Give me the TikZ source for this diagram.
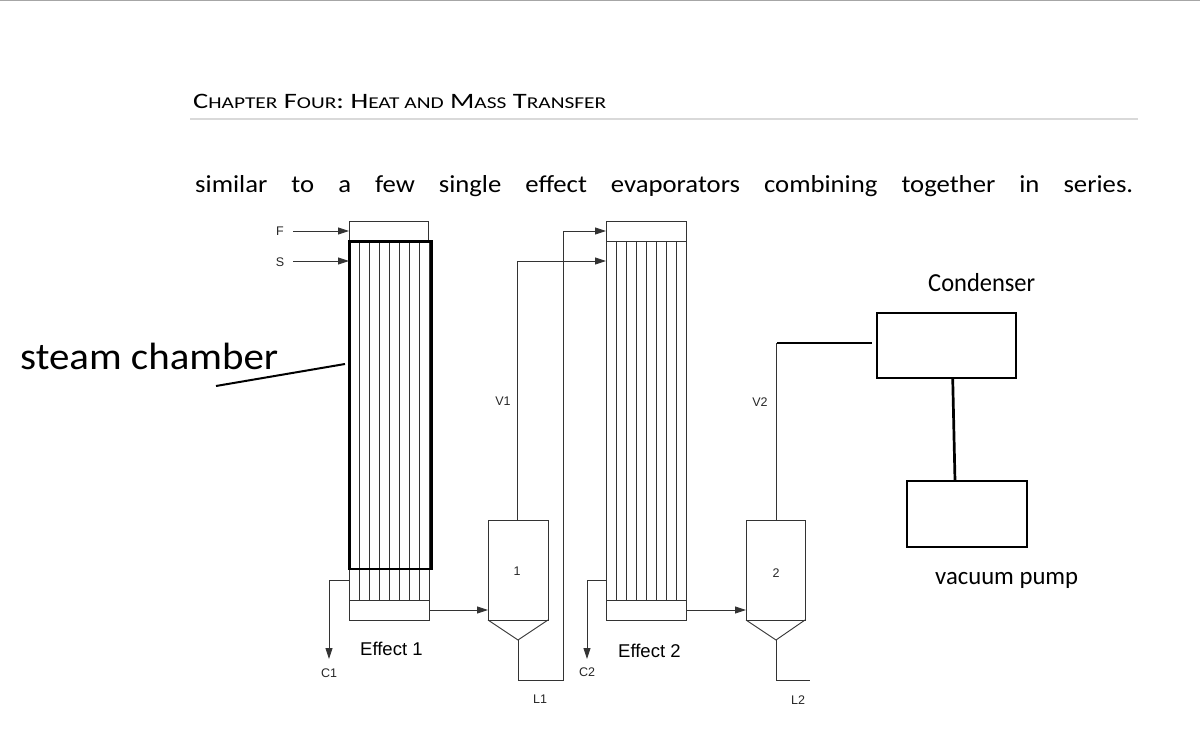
\documentclass[tikz,border=0pt]{standalone}
\usepackage{fontspec}
\setmainfont{Carlito}
\newfontfamily\arialf{Liberation Sans}
\usetikzlibrary{arrows.meta}
\newcommand\hsc[1]{{\fontsize{16.5}{16.5}\selectfont #1}}
\newcommand\bodyw[1]{\scalebox{1.09}[1]{#1}}
\tikzset{
  pipe/.style={draw=black!80, line width=0.9pt},
  flow/.style={pipe, -{Triangle[length=11pt,width=7pt]}},
  heavy/.style={draw=black, line width=2.8pt},
  lbl/.style={font=\arialf\fontsize{12.5}{12.5}\selectfont, text=black!85, inner sep=0pt},
  efflbl/.style={font=\arialf\fontsize{18.5}{18.5}\selectfont, inner sep=0pt, anchor=base west},
  txt/.style={inner sep=0pt, anchor=base west},
}
\begin{document}
\begin{tikzpicture}[x=1pt,y=-1pt]
\useasboundingbox (0,0) rectangle (1200,735);
\fill[white] (0,0) rectangle (1200,735);
% page decorations
\draw[black!35, line width=1.5pt] (0,0.75) -- (1200,0.75);
\draw[black!15, line width=1.6pt] (190,119) -- (1138,119);
\node[txt] (hdr) at (193,109) {\resizebox{413pt}{\height}{\fontsize{22}{22}\selectfont C\hsc{HAPTER} F\hsc{OUR}: H\hsc{EAT AND} M\hsc{ASS} T\hsc{RANSFER}}};
\node[txt] (body) at (195,193) {\fontsize{24.5}{24.5}\selectfont\makebox[938pt][s]{\bodyw{similar} \bodyw{to} \bodyw{a} \bodyw{few} \bodyw{single} \bodyw{effect} \bodyw{evaporators} \bodyw{combining} \bodyw{together} \bodyw{in} \bodyw{series.}}};

% ---------- Effect 1 ----------
\draw[pipe] (349,221) rectangle (428,241);
\foreach \i in {0,...,8} \draw[pipe] ({349+10*\i},241) -- ({349+10*\i},600);
\draw[pipe] (349,600) rectangle (429,620);
\draw[heavy] (349.5,241.3) rectangle (431.7,569);
\node[efflbl] (eff1) at (360,655) {Effect 1};

% feed and steam
\node[lbl] (F) at (280,231) {F};
\node[lbl] (S) at (280,262) {S};
\coordinate (fin) at (349,231);
\coordinate (sin) at (349,261);
\draw[flow] (F.east) ++(9,0) -- (fin);
\draw[flow] (S.east) ++(9,-1) -- (sin);

% condensate 1
\coordinate (c1a) at (349,580);
\coordinate (c1b) at (329,580);
\coordinate (c1c) at (329,659);
\draw[flow] (c1a) -- (c1b) -- (c1c);
\node[lbl] (C1) at (329,673) {C1};

% separator 1
\coordinate (s1tl) at (488,520);
\coordinate (s1tr) at (548,520);
\coordinate (s1bl) at (488,620);
\coordinate (s1br) at (548,620);
\coordinate (s1apex) at (518,640);
\draw[pipe] (s1bl) -- (s1tl) -- (s1tr) -- (s1br) -- cycle;
\draw[pipe] (s1bl) -- (s1apex) -- (s1br);
\node[lbl] (n1) at (517,571) {1};
\coordinate (e1out) at (429,610);
\coordinate (s1in) at (488,610);
\draw[flow] (e1out) -- (s1in);

% V1 and L1 to effect 2
\coordinate (v1top) at (517,520);
\coordinate (v1a) at (517,261);
\coordinate (e2vin) at (606,261);
\draw[flow] (v1top) -- (v1a) -- (e2vin);
\node[lbl] (V1) at (503,401) {V1};
\coordinate (l1a) at (518,680);
\coordinate (l1b) at (563,680);
\coordinate (l1c) at (563,231);
\coordinate (e2fin) at (606,231);
\draw[flow] (s1apex) -- (l1a) -- (l1b) -- (l1c) -- (e2fin);
\node[lbl] (L1) at (540,699) {L1};

% ---------- Effect 2 ----------
\draw[pipe] (606,221) rectangle (686,241);
\foreach \i in {0,...,8} \draw[pipe] ({606+10*\i},241) -- ({606+10*\i},600);
\draw[pipe] (606,600) rectangle (686,620);
\node[efflbl] (eff2) at (618,657) {Effect 2};

\coordinate (c2a) at (606,580);
\coordinate (c2b) at (587,580);
\coordinate (c2c) at (587,659);
\draw[flow] (c2a) -- (c2b) -- (c2c);
\node[lbl] (C2) at (587,672) {C2};

% separator 2
\coordinate (s2tl) at (746,520);
\coordinate (s2tr) at (805,520);
\coordinate (s2bl) at (746,620);
\coordinate (s2br) at (805,620);
\coordinate (s2apex) at (776,640);
\draw[pipe] (s2bl) -- (s2tl) -- (s2tr) -- (s2br) -- cycle;
\draw[pipe] (s2bl) -- (s2apex) -- (s2br);
\node[lbl] (n2) at (776,573) {2};
\coordinate (e2out) at (686,610);
\coordinate (s2in) at (746,610);
\draw[flow] (e2out) -- (s2in);

\coordinate (l2a) at (776,680);
\coordinate (l2b) at (810,680);
\draw[pipe] (s2apex) -- (l2a) -- (l2b);
\node[lbl] (L2) at (798,700) {L2};

\coordinate (v2top) at (776,520);
\coordinate (v2a) at (776,343);
\draw[pipe] (v2top) -- (v2a);
\node[lbl] (V2) at (760,402) {V2};

% ---------- condenser and vacuum pump ----------
\node[heavy, minimum width=139pt, minimum height=65pt, inner sep=0pt] (cond) at (946.5,345.5) {};
\node[heavy, minimum width=120pt, minimum height=66pt, inner sep=0pt] (vac) at (967,514) {};
\coordinate (v2b) at (777,343);
\coordinate (condin) at (872,343);
\draw[heavy, line width=2.7pt] (v2b) -- (condin);
\coordinate (cv1) at (952.7,378);
\coordinate (cv2) at (955,481);
\draw[heavy, line width=2.7pt] (cv1) -- (cv2);
\node[txt] (condlbl) at (928,292) {\resizebox{107pt}{\height}{\fontsize{26}{26}\selectfont Condenser}};
\node[txt] (vaclbl) at (935,584) {\resizebox{143pt}{\height}{\fontsize{25}{25}\selectfont vacuum pump}};

% ---------- steam chamber annotation ----------
\node[txt] (steam) at (20,370) {\resizebox{258pt}{\height}{\fontsize{38}{38}\selectfont steam chamber}};
\coordinate (sca) at (216,386);
\coordinate (scb) at (345,364);
\draw[black, line width=2pt] (sca) -- (scb);
\end{tikzpicture}
\end{document}
